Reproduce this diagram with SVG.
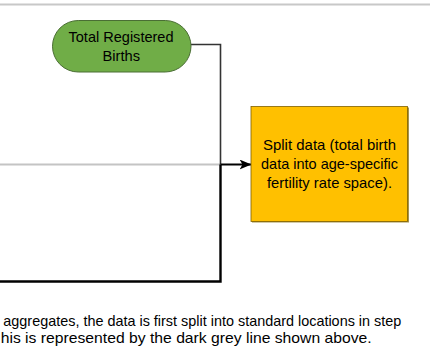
<svg xmlns="http://www.w3.org/2000/svg" width="430" height="360" viewBox="0 0 430 360">
<defs>
<style>
.t{font-family:"Liberation Sans",Arial,sans-serif;fill:#000;}
.n{font-size:14.3px;text-anchor:middle;}
.p{font-size:14.3px;}
.conn{fill:none;stroke-linejoin:miter;}
</style>
<marker id="arr" viewBox="0 0 12 10" refX="12" refY="5" markerWidth="12" markerHeight="10" markerUnits="userSpaceOnUse" orient="auto">
<path d="M0,0 L12,5 L0,10 L3,5 Z" fill="#000"/>
</marker>
</defs>
<rect width="430" height="360" fill="#fff"/>
<line x1="0" y1="4.5" x2="430" y2="4.5" stroke="#c8c8c8" stroke-width="2"/>
<g id="connectors">
<line x1="0" y1="164.5" x2="220" y2="164.5" stroke="#c4c4c4" stroke-width="2"/>
<path class="conn" d="M191,44.5 H220.5 V164.5" stroke="#333" stroke-width="1.6"/>
<path class="conn" d="M0,281.5 H220.5 V164.5" stroke="#000" stroke-width="2.4"/>
<line x1="220.5" y1="164.5" x2="251.5" y2="164.5" stroke="#000" stroke-width="2" marker-end="url(#arr)"/>
</g>
<g id="total-registered-births">
<rect x="52.5" y="20.5" width="138.5" height="51.5" rx="25.75" fill="#70ad47" stroke="#4a6e34" stroke-width="1"/>
<text class="t n" x="121" y="42" textLength="105" lengthAdjust="spacingAndGlyphs">Total Registered</text>
<text class="t n" x="121.3" y="61" textLength="37.5" lengthAdjust="spacingAndGlyphs">Births</text>
</g>
<g id="split-data">
<rect x="252" y="107.5" width="157" height="115" fill="#a39350"/>
<rect x="251" y="106.5" width="156.5" height="115" fill="#ffc000" stroke="#7f6000" stroke-width="0.8"/>
<text class="t n" x="329.5" y="150" textLength="133" lengthAdjust="spacingAndGlyphs">Split data (total birth</text>
<text class="t n" x="329.5" y="169" textLength="137" lengthAdjust="spacingAndGlyphs">data into age-specific</text>
<text class="t n" x="329.5" y="188" textLength="125" lengthAdjust="spacingAndGlyphs">fertility rate space).</text>
</g>
<text class="t p" x="3.3" y="326" textLength="398" lengthAdjust="spacingAndGlyphs">aggregates, the data is first split into standard locations in step</text>
<text class="t p" x="0.7" y="343" textLength="371" lengthAdjust="spacingAndGlyphs">his is represented by the dark grey line shown above.</text>
</svg>
